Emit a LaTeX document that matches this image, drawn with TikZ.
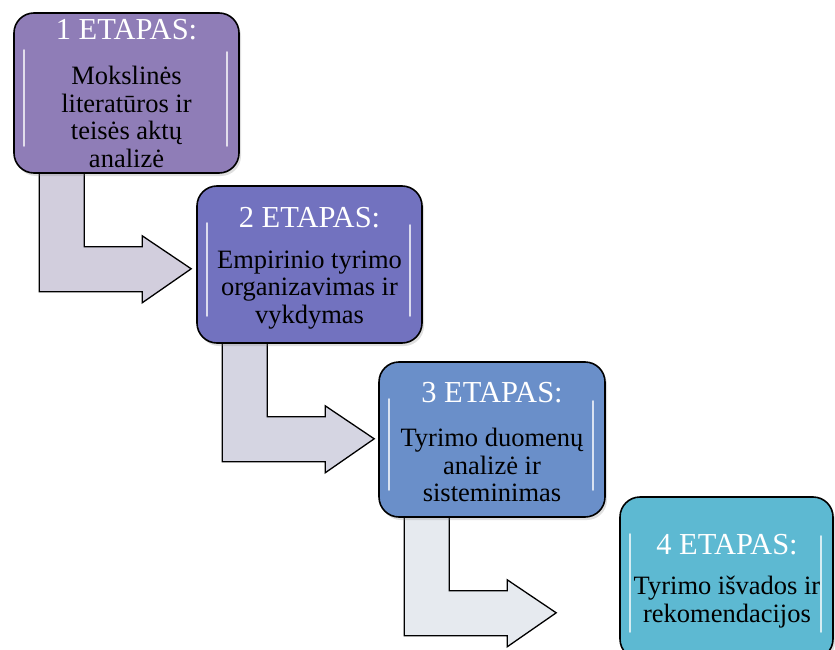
\documentclass[tikz,border=0pt]{standalone}
\usepackage{fontspec}
\setmainfont{Liberation Serif}
\usetikzlibrary{shadows,calc}
\pgfdeclarelayer{bg}
\pgfsetlayers{bg,main}
\definecolor{c1}{HTML}{8F7DB7}
\definecolor{c2}{HTML}{7272BF}
\definecolor{c3}{HTML}{6A8FC9}
\definecolor{c4}{HTML}{5DB9D2}
\definecolor{a1}{HTML}{D2CEDD}
\definecolor{a2}{HTML}{D5D5E2}
\definecolor{a3}{HTML}{E6EAEF}
\newcommand\bentarrow[2]{%
  \draw[arrowsty,fill=#2,shift={(#1.south west)}]
    (26,-20) -- (26,118) -- (129,118) -- (129,129) -- (178,95) -- (129,62)
    -- (129,73) -- (71,73) -- (71,-20) -- cycle;}
\newcommand\gloss[1]{%
  \draw[hl] ($(#1.north west)+(11,38)$) -- ($(#1.south west)+(11,-28)$);
  \draw[hl] ($(#1.north east)+(-13,40)$) -- ($(#1.south east)+(-13,-28)$);}
\begin{document}
\begin{tikzpicture}[x=1pt,y=-1pt,
  box/.style={draw=black,line width=1.6pt,rounded corners=20pt,inner sep=0pt,
    drop shadow={opacity=0.25,shadow xshift=2pt,shadow yshift=-3pt}},
  arrowsty/.style={draw=black,line width=1.3pt,line join=miter},
  hl/.style={white,opacity=0.75,line width=2.5pt,line cap=round},
  head/.style={text=white,font=\fontsize{30.5}{32}\selectfont,inner sep=0pt},
  body/.style={text=black,font=\fontsize{26.5}{27.8}\selectfont,align=center,inner sep=0pt}]
\useasboundingbox (0,0) rectangle (835,650);
\clip (0,0) rectangle (835,650);
\node[box,fill=c1,minimum width=225pt,minimum height=160pt] (b1) at (126.5,93) {};
\node[box,fill=c2,minimum width=225pt,minimum height=157pt] (b2) at (309.5,264.5) {};
\node[box,fill=c3,minimum width=226pt,minimum height=155pt] (b3) at (492,439.5) {};
\node[box,fill=c4,minimum width=213pt,minimum height=162pt] (b4) at (726.5,578) {};
\gloss{b1}\gloss{b2}\gloss{b3}\gloss{b4}
\node[head] (h1) at (126.5,30) {1 ETAPAS:};
\node[head] (h2) at (309.5,218) {2 ETAPAS:};
\node[head] (h3) at (492,393) {3 ETAPAS:};
\node[head] (h4) at (727,545) {4 ETAPAS:};
\node[body] (t1) at (126.5,117) {Mokslinės\\literatūros ir\\teisės aktų\\analizė};
\node[body] (t2) at (309.5,290) {Empirinio tyrimo\\organizavimas ir\\vykdymas};
\node[body] (t3) at (492,465) {Tyrimo duomenų\\analizė ir\\sisteminimas};
\node[body] (t4) at (727,602) {Tyrimo išvados ir\\rekomendacijos};
\begin{pgfonlayer}{bg}
\bentarrow{b1}{a1}
\bentarrow{b2}{a2}
\bentarrow{b3}{a3}
\end{pgfonlayer}
\end{tikzpicture}
\end{document}
